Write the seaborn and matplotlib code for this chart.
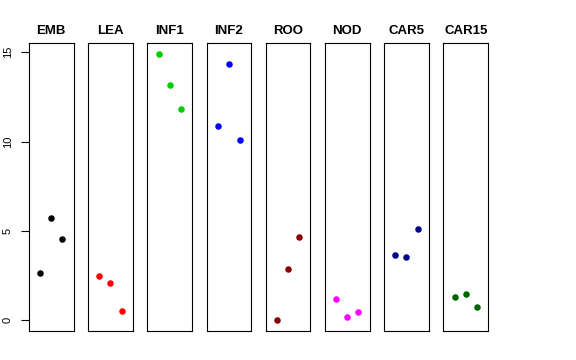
import pandas as pd
import matplotlib
matplotlib.use("Agg")
import matplotlib.pyplot as plt
import seaborn as sns

# tissues and their three replicate values
groups = ["EMB", "LEA", "INF1", "INF2", "ROO", "NOD", "CAR5", "CAR15"]
emb = [2.65, 5.72, 4.53]
lea = [2.50, 2.07, 0.52]
inf1 = [14.92, 13.17, 11.81]
inf2 = [10.89, 14.36, 10.11]
roo = [0.00, 2.85, 4.68]
nod = [1.19, 0.18, 0.45]
car5 = [3.65, 3.54, 5.11]
car15 = [1.32, 1.47, 0.73]
colors = ["#000000", "#FF0000", "#00CD00", "#0000FF",
          "#8B0000", "#FF00FF", "#00008B", "#006400"]
yticks = [0, 5, 10, 15]

values = [emb, lea, inf1, inf2, roo, nod, car5, car15]
df = pd.DataFrame({
    "group": [g for g, v in zip(groups, values) for _ in v],
    "rep": [i + 1 for v in values for i in range(len(v))],
    "value": [x for v in values for x in v],
})

sns.set_style("white")
plt.rcParams["font.family"] = ["Liberation Sans", "DejaVu Sans"]
plt.rcParams["text.color"] = "black"
plt.rcParams["ytick.color"] = "black"

fig, axes = plt.subplots(1, len(groups), figsize=(5.76, 3.6), dpi=100, sharey=True)
fig.subplots_adjust(left=0.0503, right=0.8472, bottom=0.0806, top=0.8806, wspace=0.328)

ymax = df["value"].max()
ypad = 0.04 * ymax
for ax, g, c in zip(axes, groups, colors):
    sub = df[df["group"] == g]
    sns.scatterplot(data=sub, x="rep", y="value", color=c, s=22,
                    linewidth=0, ax=ax, legend=False)
    ax.set_xlim(0, 4)
    ax.set_ylim(-ypad, ymax + ypad)
    ax.set_title(g, fontsize=9.5, fontweight="bold", pad=6.5, color="black")
    ax.set_xlabel("")
    ax.set_ylabel("")
    ax.set_xticks([])
    for sp in ax.spines.values():
        sp.set_visible(True)
        sp.set_color("black")
        sp.set_linewidth(0.8)
    ax.tick_params(axis="y", left=False, labelleft=False)

ax0 = axes[0]
ax0.set_yticks(yticks)
ax0.set_yticklabels([str(t) for t in yticks], rotation=90, va="center", fontsize=8)
ax0.tick_params(axis="y", left=True, labelleft=True, length=5.5, width=0.8,
                pad=6, colors="black")

fig.savefig("out.png", dpi=100)
